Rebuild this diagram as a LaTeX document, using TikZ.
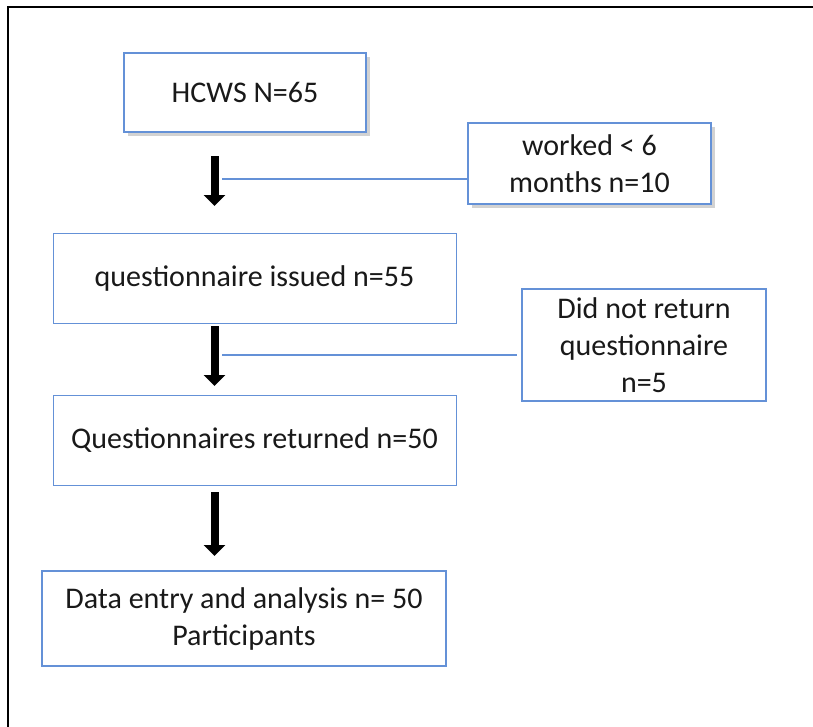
\documentclass[tikz,border=0pt]{standalone}
\usepackage{fontspec}
\setmainfont{Carlito}
\usetikzlibrary{arrows.meta,shadows}
\definecolor{boxblue}{RGB}{100,145,215}
\definecolor{txt}{RGB}{25,25,25}
\tikzset{
  flowbox/.style={draw=boxblue, line width=1.4pt, fill=white, inner sep=0pt, align=center,
    text=txt, font=\fontsize{30}{37}\selectfont},
  thinbox/.style={flowbox, line width=0.9pt},
  shadowed/.style={drop shadow={opacity=0.35, shadow xshift=3.5pt, shadow yshift=-3.5pt}},
  bigarrow/.style={line width=8pt, -{Triangle[width=21pt,length=11pt]}},
  sideline/.style={draw=boxblue, line width=1.1pt},
}
\begin{document}
\begin{tikzpicture}[x=1pt,y=-1pt]
\useasboundingbox (0,0) rectangle (813,726);
\fill[white] (0,0) rectangle (813,726);
% frame
\coordinate (fbl) at (8,730);
\coordinate (ftl) at (8,7);
\coordinate (ftr) at (820,7);
\draw[line width=2.5pt] (fbl) -- (ftl) -- (ftr);

\node[flowbox, shadowed, minimum width=242pt, minimum height=79pt] (hcws) at (245,92.5) {HCWS N=65};
\node[flowbox, shadowed, minimum width=243pt, minimum height=81pt] (worked) at (589.5,163.5) {worked < 6\\months n=10};
\node[thinbox, minimum width=403pt, minimum height=90pt] (issued) at (254.5,278) {questionnaire issued n=55};
\node[flowbox, minimum width=244pt, minimum height=112pt] (noret) at (644,345) {Did not return\\questionnaire\\n=5};
\node[thinbox, minimum width=403pt, minimum height=90pt] (returned) at (254.5,440) {Questionnaires returned n=50};
\node[flowbox, minimum width=404pt, minimum height=95pt] (entry) at (244,618.5) {Data entry and analysis n= 50\\Participants};

% arrows
\coordinate (a1s) at (214.5,156);
\coordinate (a1e) at (214.5,206);
\coordinate (a2s) at (214.5,326);
\coordinate (a2e) at (214.5,386);
\coordinate (a3s) at (214.5,492);
\coordinate (a3e) at (214.5,556);
\draw[bigarrow] (a1s) -- (a1e);
\draw[bigarrow] (a2s) -- (a2e);
\draw[bigarrow] (a3s) -- (a3e);

% side lines
\coordinate (j1) at (222,179);
\coordinate (j2) at (222,355);
\draw[sideline] (j1) -- (j1 -| worked.west);
\draw[sideline] (j2) -- ([xshift=-4pt]j2 -| noret.west);
\end{tikzpicture}
\end{document}
